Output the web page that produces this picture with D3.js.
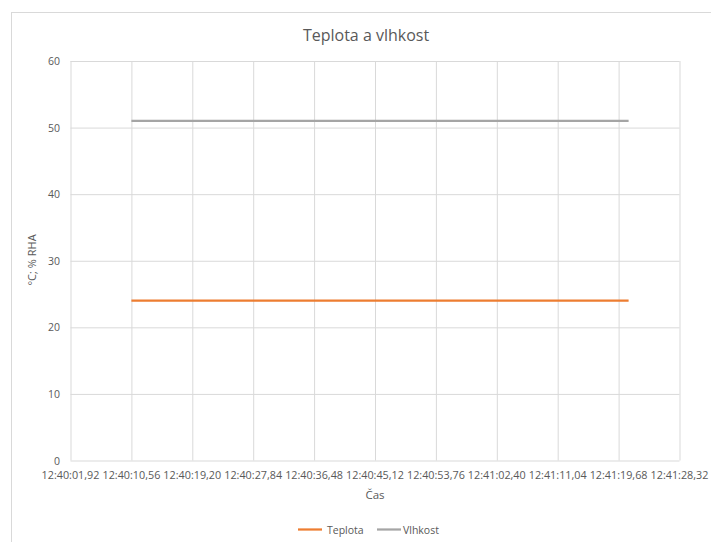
<!DOCTYPE html>
<html><head><meta charset="utf-8">
<script src="https://cdn.jsdelivr.net/npm/d3@7"></script>
<style>
html,body{margin:0;padding:0;background:#fff;}
svg{display:block;font-family:"Open Sans",sans-serif;}
</style></head>
<body>
<svg id="c" width="711" height="542"></svg>
<script>
// ---- data ----
const xTickLabels = ["12:40:01,92","12:40:10,56","12:40:19,20","12:40:27,84","12:40:36,48","12:40:45,12","12:40:53,76","12:41:02,40","12:41:11,04","12:41:19,68","12:41:28,32"];
const yTicks = [0,10,20,30,40,50,60];
const times = ["12:40:10,56","12:40:15,60","12:40:20,64","12:40:25,68","12:40:30,72","12:40:35,76","12:40:40,80","12:40:45,84","12:40:50,88","12:40:55,92","12:41:00,96","12:41:06,00","12:41:11,04","12:41:16,08","12:41:21,10"];
const teplota = [24,24,24,24,24,24,24,24,24,24,24,24,24,24,24];
const vlhkost = [51,51,51,51,51,51,51,51,51,51,51,51,51,51,51];
const seriesNames = ["Teplota","Vlhkost"];
const seriesColors = ["#ED7D31","#A5A5A5"];

function toSec(s){const [h,m,r]=s.split(":");return (+h)*3600+(+m)*60+parseFloat(r.replace(",","."));}

const svg = d3.select("#c");
const L=70.5,R=679.5,T=61,B=460.5;
const xTickVals = xTickLabels.map(toSec);
const x = d3.scaleLinear().domain([xTickVals[0], xTickVals[xTickVals.length-1]]).range([L,R]);
const y = d3.scaleLinear().domain([0,60]).range([B,T]);

// chart border
svg.append("rect").attr("x",11.5).attr("y",12.5).attr("width",720).attr("height",560)
  .attr("fill","#fff").attr("stroke","#d9d9d9").attr("stroke-width",1);

// title
svg.append("text").attr("x",366).attr("y",41).attr("text-anchor","middle")
  .attr("font-size",16).attr("fill","#595959").text("Teplota a vlhkost");

// gridlines
const gy = svg.append("g")
  .call(d3.axisLeft(y).tickValues(yTicks).tickSize(-(R-L)).tickFormat(""))
  .attr("transform",`translate(${L},0)`);
gy.select(".domain").remove();
gy.selectAll("line").attr("stroke","#d9d9d9");

const gx = svg.append("g").attr("transform",`translate(0,${B})`)
  .call(d3.axisBottom(x).tickValues(xTickVals).tickSize(-(B-T)).tickFormat(""));
gx.select(".domain").remove();
gx.selectAll("line").attr("stroke","#d9d9d9");

// y labels
svg.append("g").selectAll("text").data(yTicks).join("text")
  .attr("x",60).attr("y",d=>y(d)+4).attr("text-anchor","end")
  .attr("font-size",10.5).attr("fill","#595959").text(d=>d);

// x labels
svg.append("g").selectAll("text").data(xTickLabels).join("text")
  .attr("x",(d,i)=>x(xTickVals[i])).attr("y",479).attr("text-anchor","middle")
  .attr("font-size",10.8).attr("fill","#595959").text(d=>d);

// axis titles
svg.append("text").attr("x",375).attr("y",499).attr("text-anchor","middle")
  .attr("font-size",11.5).attr("fill","#595959").text("Čas");
svg.append("text").attr("transform","translate(36,260) rotate(-90)").attr("text-anchor","middle")
  .attr("font-size",11).attr("fill","#595959").text("°C; % RHA");

// series
const tx = times.map(toSec);
[teplota,vlhkost].forEach((vals,si)=>{
  const line = d3.line().x((d,i)=>x(tx[i])).y(d=>y(d));
  svg.append("path").datum(vals).attr("d",line).attr("fill","none")
    .attr("stroke",seriesColors[si]).attr("stroke-width",2.25).attr("stroke-linecap","butt");
});

// legend
const leg = [{x:298,tx:327},{x:377,tx:403}];
seriesNames.forEach((n,i)=>{
  svg.append("line").attr("x1",leg[i].x).attr("x2",leg[i].x+24).attr("y1",529.5).attr("y2",529.5)
    .attr("stroke",seriesColors[i]).attr("stroke-width",2.25);
  svg.append("text").attr("x",leg[i].tx).attr("y",533.5).attr("font-size",10.5)
    .attr("fill","#595959").text(n);
});
</script>
</body></html>
